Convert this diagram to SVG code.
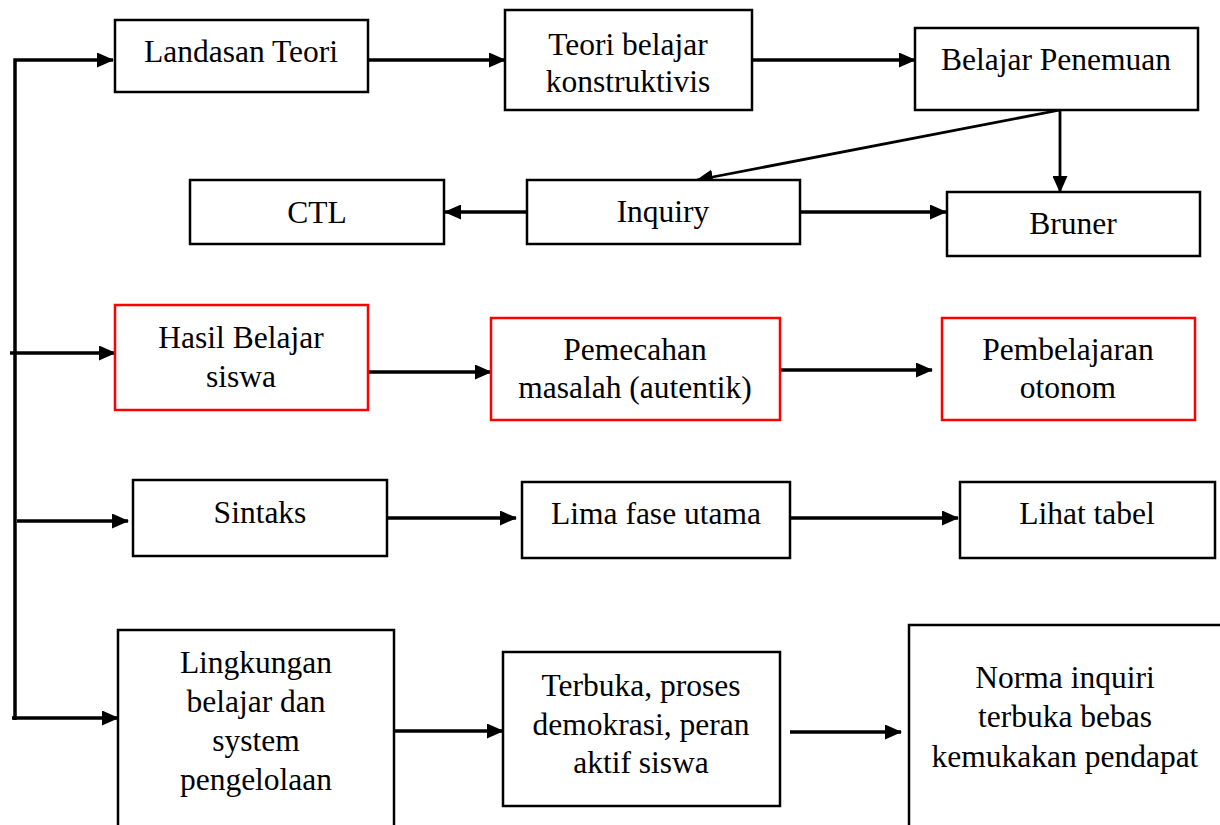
<svg xmlns="http://www.w3.org/2000/svg" width="1220" height="825" viewBox="0 0 1220 825">
<style>
.box{fill:#fff;stroke:#000;stroke-width:2.5}
.red{fill:#fff;stroke:#ff0000;stroke-width:2.5}
.c{fill:none;stroke:#000;stroke-width:3.5}
.thin{fill:none;stroke:#000;stroke-width:2.8}
</style>
<defs>
<marker id="ah" markerUnits="userSpaceOnUse" markerWidth="17" markerHeight="15" refX="16" refY="7.5" orient="auto">
<path d="M0,0 L17,7.5 L0,15 Z" fill="#000"/>
</marker>
</defs>
<rect width="1220" height="825" fill="#fff"/>
<g id="connectors">
<path class="c" d="M15,720 V60 H113" marker-end="url(#ah)"/>
<path class="c" d="M368,60 H505" marker-end="url(#ah)"/>
<path class="c" d="M752,60 H915" marker-end="url(#ah)"/>
<path class="thin" d="M1060,110 V192" marker-end="url(#ah)"/>
<path class="thin" d="M1060,110 L697,180" marker-end="url(#ah)"/>
<path class="c" d="M527,212 H445" marker-end="url(#ah)"/>
<path class="c" d="M800,212 H946" marker-end="url(#ah)"/>
<path class="c" d="M10,353 H115" marker-end="url(#ah)"/>
<path class="c" d="M368,372 H491" marker-end="url(#ah)"/>
<path class="c" d="M780,370 H932" marker-end="url(#ah)"/>
<path class="c" d="M17,521 H128" marker-end="url(#ah)"/>
<path class="c" d="M387,518 H516" marker-end="url(#ah)"/>
<path class="c" d="M790,518 H958" marker-end="url(#ah)"/>
<path class="c" d="M12,718 H118" marker-end="url(#ah)"/>
<path class="c" d="M394,731 H503" marker-end="url(#ah)"/>
<path class="c" d="M790,732 H901" marker-end="url(#ah)"/>
</g>
<g font-family="'Liberation Serif', 'Times New Roman', 'DejaVu Serif', serif" font-size="31.5" fill="#000" text-anchor="middle">
<g id="landasan"><rect class="box" x="115" y="20" width="253" height="72"/><text x="241" y="62">Landasan Teori</text></g>
<g id="teori"><rect class="box" x="505" y="10" width="247" height="100"/><text x="628" y="55">Teori belajar</text><text x="628" y="92">konstruktivis</text></g>
<g id="penemuan"><rect class="box" x="915" y="28" width="283" height="82"/><text x="1056" y="70">Belajar Penemuan</text></g>
<g id="ctl"><rect class="box" x="190" y="180" width="254" height="64"/><text x="317" y="223">CTL</text></g>
<g id="inquiry"><rect class="box" x="527" y="180" width="273" height="64"/><text x="663" y="222">Inquiry</text></g>
<g id="bruner"><rect class="box" x="947" y="192" width="253" height="64"/><text x="1073" y="234">Bruner</text></g>
<g id="hasil"><rect class="red" x="115" y="305" width="253" height="105"/><text x="241" y="348">Hasil Belajar</text><text x="241" y="387">siswa</text></g>
<g id="pemecahan"><rect class="red" x="491" y="318" width="289" height="102"/><text x="635" y="360">Pemecahan</text><text x="635" y="398">masalah (autentik)</text></g>
<g id="otonom"><rect class="red" x="942" y="318" width="253" height="102"/><text x="1068" y="360">Pembelajaran</text><text x="1068" y="398">otonom</text></g>
<g id="sintaks"><rect class="box" x="133" y="480" width="254" height="76"/><text x="260" y="523">Sintaks</text></g>
<g id="lima"><rect class="box" x="522" y="482" width="268" height="76"/><text x="656" y="524">Lima fase utama</text></g>
<g id="lihat"><rect class="box" x="960" y="482" width="255" height="76"/><text x="1087" y="524">Lihat tabel</text></g>
<g id="lingkungan"><rect class="box" x="118" y="630" width="276" height="210"/><text x="256" y="673">Lingkungan</text><text x="256" y="712">belajar dan</text><text x="256" y="751">system</text><text x="256" y="790">pengelolaan</text></g>
<g id="terbuka"><rect class="box" x="503" y="652" width="277" height="154"/><text x="641" y="696">Terbuka, proses</text><text x="641" y="735">demokrasi, peran</text><text x="641" y="773">aktif siswa</text></g>
<g id="norma"><rect class="box" x="909" y="625" width="330" height="220"/><text x="1065" y="688">Norma inquiri</text><text x="1065" y="727">terbuka bebas</text><text x="1065" y="767">kemukakan pendapat</text></g>
</g>
</svg>
